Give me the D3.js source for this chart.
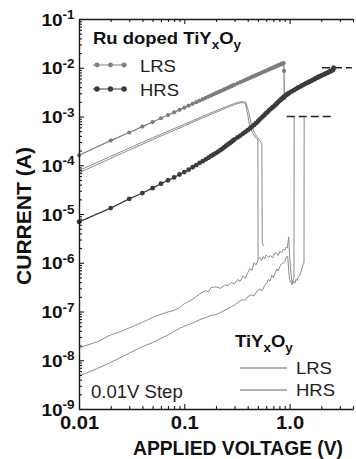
<!DOCTYPE html>
<html>
<head>
<meta charset="utf-8">
<script src="https://cdn.jsdelivr.net/npm/d3@7"></script>
<style>
  body { margin: 0; background: #fff; }
  svg { display: block; font-family: "Liberation Sans", Arial, sans-serif; }
</style>
</head>
<body>
<svg id="chart" width="356" height="459"></svg>
<script>
// Ru doped TiYxOy, LRS sweep (0.01 V steps, then reset)
const ruLrsV = [0.01,0.02,0.03,0.04,0.05,0.06,0.07,0.08,0.09,0.10,0.11,0.12,0.13,0.14,0.15,0.16,0.17,0.18,0.19,0.20,
  0.21,0.22,0.23,0.24,0.25,0.26,0.27,0.28,0.29,0.30,0.32,0.34,0.36,0.38,0.40,0.42,0.44,0.46,0.48,0.50,
  0.52,0.54,0.56,0.58,0.60,0.62,0.64,0.66,0.68,0.70,0.72,0.74,0.76,0.78,0.80,0.82,0.84,0.86,0.88,0.885,0.89];
const ruLrsI = [1.6e-4,3.2e-4,4.7e-4,6.2e-4,7.7e-4,9.2e-4,1.07e-3,1.22e-3,1.37e-3,1.52e-3,1.67e-3,1.82e-3,1.97e-3,2.12e-3,2.27e-3,2.42e-3,2.56e-3,2.71e-3,2.86e-3,3.01e-3,
  3.16e-3,3.3e-3,3.45e-3,3.6e-3,3.75e-3,3.89e-3,4.04e-3,4.18e-3,4.33e-3,4.47e-3,4.76e-3,5.05e-3,5.33e-3,5.62e-3,5.9e-3,6.19e-3,6.47e-3,6.76e-3,7.04e-3,7.32e-3,
  7.6e-3,7.88e-3,8.16e-3,8.44e-3,8.72e-3,9.0e-3,9.28e-3,9.55e-3,9.83e-3,1.01e-2,1.04e-2,1.06e-2,1.09e-2,1.12e-2,1.15e-2,1.17e-2,1.2e-2,1.23e-2,1.25e-2,8.6e-3,2.4e-3];

// Ru doped TiYxOy, HRS sweep up to the 10 mA compliance
const ruHrsV = [0.01,0.02,0.03,0.04,0.05,0.06,0.07,0.08,0.09,0.10,0.11,0.12,0.13,0.14,0.15,0.16,0.17,0.18,0.19,0.20,
  0.21,0.22,0.23,0.24,0.25,0.26,0.27,0.28,0.29,0.30,0.32,0.34,0.36,0.38,0.40,0.42,0.44,0.46,0.48,0.50,
  0.52,0.54,0.56,0.58,0.60,0.62,0.64,0.66,0.68,0.70,0.72,0.74,0.76,0.78,0.80,0.82,0.84,0.86,0.88,0.90,
  0.92,0.94,0.96,0.98,1.00,1.05,1.10,1.15,1.20,1.25,1.30,1.35,1.40,1.45,1.50,1.55,1.60,1.65,1.70,1.75,
  1.80,1.85,1.90,1.95,2.00,2.05,2.10,2.15,2.20,2.25,2.30,2.35,2.40,2.45,2.50,2.55,2.60,2.62];
const ruHrsI = [6.9e-6,1.32e-5,2.04e-5,2.69e-5,3.39e-5,4.17e-5,4.9e-5,5.62e-5,6.46e-5,7.24e-5,8.1e-5,9.1e-5,1.01e-4,1.12e-4,1.22e-4,1.32e-4,1.43e-4,1.55e-4,1.66e-4,1.78e-4,
  1.91e-4,2.04e-4,2.19e-4,2.34e-4,2.51e-4,2.67e-4,2.83e-4,3.0e-4,3.19e-4,3.39e-4,3.72e-4,4.07e-4,4.45e-4,4.83e-4,5.25e-4,5.7e-4,6.19e-4,6.73e-4,7.31e-4,7.94e-4,
  8.63e-4,9.38e-4,1.01e-3,1.09e-3,1.17e-3,1.25e-3,1.34e-3,1.42e-3,1.5e-3,1.58e-3,1.67e-3,1.77e-3,1.87e-3,1.98e-3,2.09e-3,2.19e-3,2.29e-3,2.4e-3,2.51e-3,2.63e-3,
  2.72e-3,2.81e-3,2.9e-3,2.99e-3,3.09e-3,3.27e-3,3.47e-3,3.67e-3,3.89e-3,4.07e-3,4.27e-3,4.47e-3,4.68e-3,4.84e-3,5.01e-3,5.19e-3,5.37e-3,5.56e-3,5.75e-3,5.96e-3,
  6.17e-3,6.34e-3,6.53e-3,6.73e-3,6.92e-3,7.08e-3,7.24e-3,7.41e-3,7.59e-3,7.76e-3,7.94e-3,8.13e-3,8.32e-3,8.51e-3,8.71e-3,8.91e-3,9.12e-3,1.0e-2];

// undoped TiYxOy, two LRS (reset) sweeps
const tiLrs1V = [0.01,0.02,0.03,0.05,0.07,0.10,0.15,0.20,0.25,0.30,0.33,0.36,0.38,0.40,0.42,0.45,0.48,0.50,0.502];
const tiLrs1I = [7.0e-5,1.38e-4,2.05e-4,3.35e-4,4.6e-4,6.4e-4,9.4e-4,1.22e-3,1.5e-3,1.75e-3,1.88e-3,1.92e-3,1.85e-3,1.1e-3,6.0e-4,4.4e-4,3.6e-4,3.3e-4,1.2e-6];
const tiLrs2V = [0.01,0.02,0.03,0.05,0.07,0.10,0.15,0.20,0.25,0.30,0.33,0.36,0.385,0.41,0.44,0.47,0.51,0.545,0.55,0.565];
const tiLrs2I = [7.8e-5,1.52e-4,2.25e-4,3.65e-4,5.0e-4,6.9e-4,1.01e-3,1.31e-3,1.6e-3,1.85e-3,1.98e-3,2.02e-3,1.95e-3,1.2e-3,6.0e-4,4.4e-4,3.4e-4,2.8e-4,2.6e-6,2.2e-6];

// undoped TiYxOy, two HRS (set) sweeps up to the 1 mA compliance
const tiHrs1V = [0.01,0.015,0.02,0.025,0.03,0.04,0.045,0.055,0.07,0.08,0.09,0.10,0.11,0.125,0.14,0.16,0.17,0.18,0.20,0.22,
  0.24,0.26,0.28,0.30,0.32,0.34,0.36,0.38,0.40,0.42,0.44,0.46,0.48,0.50,0.52,0.54,0.56,0.58,0.60,0.63,
  0.66,0.69,0.72,0.75,0.78,0.81,0.84,0.87,0.90,0.93,0.95,0.98,1.00,1.03,1.06,1.08,1.10,1.105];
const tiHrs1I = [1.8e-8,2.4e-8,3.3e-8,3.9e-8,4.6e-8,6.0e-8,6.8e-8,8.2e-8,9.8e-8,1.05e-7,1.2e-7,1.45e-7,1.6e-7,1.9e-7,2.3e-7,2.7e-7,2.5e-7,3.1e-7,3.2e-7,3.0e-7,
  3.5e-7,3.4e-7,3.9e-7,3.7e-7,4.5e-7,4.2e-7,5.3e-7,4.8e-7,6.2e-7,7.5e-7,7.0e-7,1.0e-6,9.0e-7,1.15e-6,1.3e-6,1.1e-6,1.35e-6,1.2e-6,1.45e-6,1.3e-6,
  1.4e-6,1.25e-6,1.55e-6,1.6e-6,1.4e-6,1.75e-6,1.6e-6,1.9e-6,1.8e-6,2.1e-6,2.0e-6,3.4e-6,1.4e-6,6.0e-7,3.8e-7,4.5e-7,5.0e-7,1.0e-3];
const tiHrs2V = [0.01,0.015,0.02,0.03,0.04,0.05,0.06,0.07,0.08,0.09,0.10,0.12,0.14,0.16,0.18,0.20,0.22,0.25,0.28,0.30,
  0.33,0.36,0.38,0.40,0.43,0.46,0.49,0.52,0.55,0.58,0.61,0.63,0.65,0.68,0.70,0.73,0.76,0.78,0.81,0.84,
  0.87,0.90,0.93,0.96,0.98,1.00,1.03,1.06,1.09,1.12,1.15,1.18,1.21,1.25,1.28,1.31,1.34,1.37,1.375];
const tiHrs2I = [4.8e-9,6.8e-9,9.0e-9,1.4e-8,1.9e-8,2.3e-8,2.8e-8,3.3e-8,3.9e-8,4.5e-8,5.0e-8,5.8e-8,6.8e-8,7.5e-8,8.3e-8,8.6e-8,9.5e-8,1.1e-7,1.25e-7,1.35e-7,
  1.6e-7,1.75e-7,1.7e-7,2.0e-7,2.2e-7,2.1e-7,2.6e-7,2.9e-7,2.7e-7,3.4e-7,3.9e-7,4.6e-7,4.2e-7,5.5e-7,5.0e-7,6.3e-7,7.5e-7,6.8e-7,8.5e-7,9.5e-7,
  1.0e-6,1.05e-6,1.3e-6,1.35e-6,7.0e-7,4.5e-7,4.0e-7,3.5e-7,4.2e-7,3.8e-7,4.6e-7,4.3e-7,5.1e-7,5.5e-7,6.5e-7,7.5e-7,9.0e-7,1.0e-6,1.0e-3];

// compliance markers (dashed)
const complianceI = [1e-3, 1e-2];
const complianceFrom = [0.94, 2.03];
const complianceTo = [2.58, 3.9];

// axes
const yMajor = [1e-9,1e-8,1e-7,1e-6,1e-5,1e-4,1e-3,1e-2,1e-1];
const yExp = ["-9","-8","-7","-6","-5","-4","-3","-2","-1"];
const xMajor = [0.01, 0.1, 1];
const xLabels = ["0.01", "0.1", "1.0"];
const xMinor = [0.02,0.03,0.04,0.05,0.06,0.07,0.08,0.09,0.2,0.3,0.4,0.5,0.6,0.7,0.8,0.9,2,3,4];

const GRAY = "#7d7d7d";
const DARK = "#3b3b3b";
const THIN = "#8c8c8c";
const AXIS = "#1a1a1a";
const SX = "scale(1.12,1)";

const svg = d3.select("#chart");
const x = d3.scaleLog().domain([0.01, 4]).range([79, 353]);
const y = d3.scaleLog().domain([1e-9, 1e-1]).range([409, 19]);

const line = d3.line().x(d => x(d[0])).y(d => y(d[1]));
const plot = svg.append("g");

// undoped thin curves
[[tiHrs2V, tiHrs2I], [tiHrs1V, tiHrs1I], [tiLrs1V, tiLrs1I], [tiLrs2V, tiLrs2I]].forEach(([v, i]) => {
  plot.append("path")
    .attr("d", line(d3.zip(v, i)))
    .attr("fill", "none")
    .attr("stroke", THIN)
    .attr("stroke-width", 1)
    .attr("stroke-linejoin", "round");
});

// compliance dashes
plot.selectAll("line.comp")
  .data(complianceI)
  .join("line")
  .attr("class", "comp")
  .attr("x1", (d, k) => x(complianceFrom[k]))
  .attr("x2", (d, k) => x(complianceTo[k]))
  .attr("y1", d => y(d))
  .attr("y2", d => y(d))
  .attr("stroke", "#222")
  .attr("stroke-width", 1.6)
  .attr("stroke-dasharray", "8,4");

// Ru doped curves with markers
function markedSeries(v, i, color, r) {
  const pts = d3.zip(v, i);
  plot.append("path")
    .attr("d", line(pts))
    .attr("fill", "none")
    .attr("stroke", color)
    .attr("stroke-width", 1.2);
  plot.append("g").selectAll("circle")
    .data(pts)
    .join("circle")
    .attr("cx", d => x(d[0]))
    .attr("cy", d => y(d[1]))
    .attr("r", r)
    .attr("fill", color);
}
markedSeries(ruLrsV, ruLrsI, GRAY, 2.1);
markedSeries(ruHrsV, ruHrsI, DARK, 2.4);

// axes
const gL = svg.append("g").attr("transform", "translate(79,0)");
gL.call(d3.axisLeft(y).tickValues(yMajor).tickSizeInner(-5).tickSizeOuter(0).tickPadding(5).tickFormat(""));
const yMinor = [];
yMajor.slice(0, -1).forEach(m => { for (let k = 2; k <= 9; k++) yMinor.push(m * k); });
svg.append("g").attr("transform", "translate(79,0)")
  .call(d3.axisLeft(y).tickValues(yMinor).tickSizeInner(-3).tickSizeOuter(0).tickFormat(""))
  .call(g => g.select(".domain").remove());

gL.selectAll(".tick text").each(function(d, k) {
  const t = d3.select(this)
    .attr("font-size", 17).attr("font-weight", "bold").attr("fill", "#111")
    .attr("font-family", "'Liberation Sans', Arial, sans-serif")
    .attr("x", -4).attr("dy", "0.36em")
    .attr("transform", SX);
  t.append("tspan").text("10");
  t.append("tspan").text(yExp[k]).attr("font-size", 12).attr("dy", "-0.55em");
});

const gB = svg.append("g").attr("transform", "translate(0,409)");
gB.call(d3.axisBottom(x).tickValues(xMajor).tickSizeInner(-5).tickSizeOuter(0).tickPadding(7)
  .tickFormat((d, k) => xLabels[k]));
svg.append("g").attr("transform", "translate(0,409)")
  .call(d3.axisBottom(x).tickValues(xMinor).tickSizeInner(-3).tickSizeOuter(0).tickFormat(""))
  .call(g => g.select(".domain").remove());
gB.selectAll(".tick text")
  .attr("font-size", 18).attr("font-weight", "bold").attr("fill", "#111")
  .attr("font-family", "'Liberation Sans', Arial, sans-serif")
  .attr("transform", SX);

const gT = svg.append("g").attr("transform", "translate(0,19)");
gT.call(d3.axisTop(x).tickValues(xMajor).tickSizeInner(-5).tickSizeOuter(0).tickFormat(""));
svg.append("g").attr("transform", "translate(0,19)")
  .call(d3.axisTop(x).tickValues(xMinor).tickSizeInner(-3).tickSizeOuter(0).tickFormat(""))
  .call(g => g.select(".domain").remove());

svg.selectAll(".domain").attr("stroke", AXIS).attr("stroke-width", 1.4);
svg.selectAll(".tick line").attr("stroke", AXIS).attr("stroke-width", 1.1);

// axis titles
svg.append("text")
  .attr("x", 238).attr("y", 455)
  .attr("text-anchor", "middle")
  .attr("textLength", 210).attr("lengthAdjust", "spacingAndGlyphs")
  .attr("font-size", 19.5).attr("font-weight", "bold").attr("fill", "#111")
  .text("APPLIED VOLTAGE (V)");
svg.append("text")
  .attr("transform", "translate(31,216) rotate(-90)")
  .attr("text-anchor", "middle")
  .attr("textLength", 138).attr("lengthAdjust", "spacingAndGlyphs")
  .attr("font-size", 20).attr("font-weight", "bold").attr("fill", "#111")
  .text("CURRENT (A)");

// formula text TiYxOy with subscripts
function material(sel, prefix) {
  if (prefix) sel.append("tspan").text(prefix);
  sel.append("tspan").text("TiY");
  sel.append("tspan").text("x").attr("font-size", 12).attr("dy", 5);
  sel.append("tspan").text("O").attr("dy", -5);
  sel.append("tspan").text("y").attr("font-size", 12).attr("dy", 5);
}

// top-left legend
const lg = svg.append("g");
material(lg.append("text")
  .attr("transform", "translate(93,43.5) " + SX)
  .attr("font-size", 16.5).attr("font-weight", "bold").attr("fill", "#111"), "Ru doped ");
const legRu = [["LRS", GRAY, 65, 2.1], ["HRS", DARK, 89, 2.4]];
legRu.forEach(([name, color, yy, r]) => {
  lg.append("line").attr("x1", 93).attr("x2", 127).attr("y1", yy).attr("y2", yy)
    .attr("stroke", color).attr("stroke-width", 1.2);
  [97, 110.5, 124].forEach(cx => lg.append("circle").attr("cx", cx).attr("cy", yy).attr("r", r + 0.3).attr("fill", color));
  lg.append("text").attr("transform", `translate(140,${yy + 6.5}) ${SX}`)
    .attr("font-size", 16.5).attr("fill", "#222").text(name);
});

// bottom-right legend
material(lg.append("text")
  .attr("transform", "translate(235,347) " + SX)
  .attr("font-size", 16.5).attr("font-weight", "bold").attr("fill", "#111"), "");
[["LRS", 368], ["HRS", 390]].forEach(([name, yy]) => {
  lg.append("line").attr("x1", 240).attr("x2", 287).attr("y1", yy).attr("y2", yy)
    .attr("stroke", "#666").attr("stroke-width", 1);
  lg.append("text").attr("transform", `translate(296,${yy + 5.5}) ${SX}`)
    .attr("font-size", 16.5).attr("fill", "#222").text(name);
});

svg.append("text")
  .attr("transform", "translate(91,398) scale(1.06,1)")
  .attr("font-size", 17.5).attr("fill", "#222")
  .text("0.01V Step");
</script>
</body>
</html>
